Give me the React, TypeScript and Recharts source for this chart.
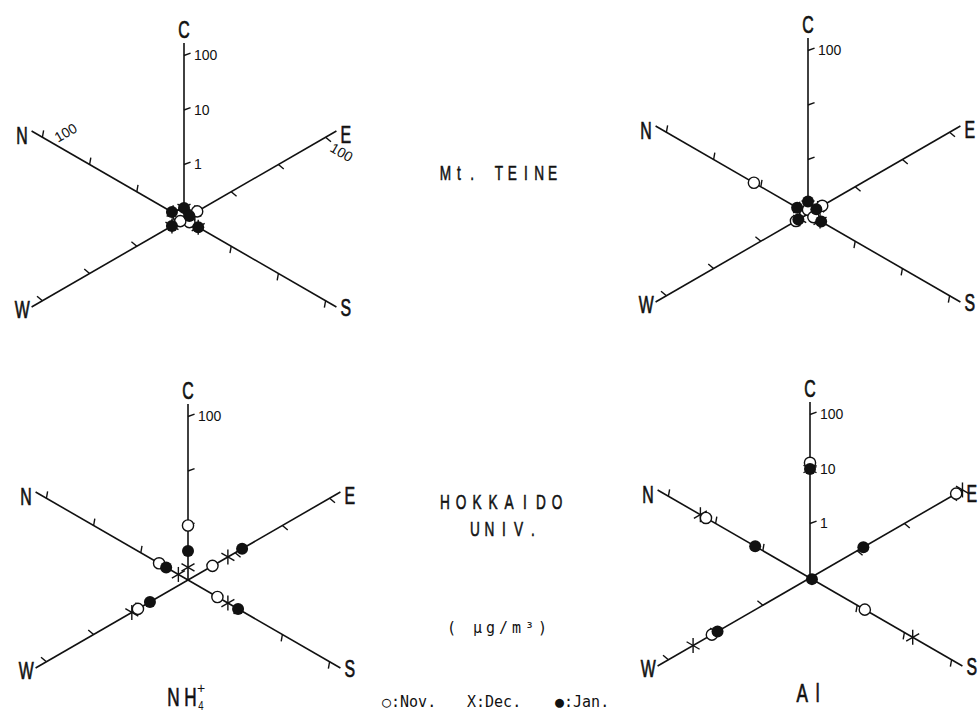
import React from 'react';
import {
    ScatterChart,
    Scatter,
    XAxis,
    YAxis,
    ReferenceLine,
    ReferenceDot
} from 'recharts';

const WIDTH = 979;
const HEIGHT = 713;

// every value list below follows this axis order
const AXES = ['C', 'N', 'E', 'S', 'W'];
const MONTHS = ['Nov.', 'Dec.', 'Jan.'];
const TICK_VALUES = [1, 10, 100];

// Mt. TEINE, NH4+ (ug/m3)
const teineNh4Nov = [0.12, 0.13, 0.19, 0.13, 0.12];
const teineNh4Dec = [0.16, 0.17, 0.17, 0.2, 0.18];
const teineNh4Jan = [0.16, 0.18, 0.13, 0.2, 0.18];

// Mt. TEINE, Al
const teineAlNov = [0.12, 1.4, 0.2, 0.13, 0.18];
const teineAlDec = [0.15, 0.15, 0.16, 0.18, 0.15];
const teineAlJan = [0.17, 0.17, 0.15, 0.19, 0.16];

// HOKKAIDO UNIV., NH4+
const hokudaiNh4Nov = [1.0, 0.41, 0.33, 0.42, 1.15];
const hokudaiNh4Dec = [0.17, 0.16, 0.7, 0.7, 1.55];
const hokudaiNh4Jan = [0.34, 0.29, 1.4, 1.15, 0.64];

// HOKKAIDO UNIV., Al
const hokudaiAlNov = [13, 16, 125, 1.45, 12];
const hokudaiAlDec = [10, 21, 170, 15, 30];
const hokudaiAlJan = [10, 1.45, 1.35, 0.11, 9.1];

// which ticks on the C axis carry a number
const teineNh4Labels = [1, 10, 100];
const teineAlLabels = [100];
const hokudaiNh4Labels = [100];
const hokudaiAlLabels = [1, 10, 100];

const SANS = '"Liberation Sans", Arial, sans-serif';
const MONO = '"DejaVu Sans Mono", monospace';
const INK = '#111';

// star geometry: log scale, 0.1 at the centre, one decade per DECADE px
const DECADE = 54.5;
const LOG_MIN = -1;
const AXIS_LEN = 176;
const TICK_LEN = 7;
const ANGLE: Record<string, number> = { C: 270, N: 210, E: 330, S: 30, W: 150 };

interface Panel {
    id: string;
    cx: number;
    cy: number;
    months: number[][];
    labels: number[];
}

const PANELS: Panel[] = [
    { id: 'teine-nh4', cx: 184, cy: 219, months: [teineNh4Nov, teineNh4Dec, teineNh4Jan], labels: teineNh4Labels },
    { id: 'teine-al', cx: 808, cy: 214, months: [teineAlNov, teineAlDec, teineAlJan], labels: teineAlLabels },
    { id: 'hokudai-nh4', cx: 188, cy: 580, months: [hokudaiNh4Nov, hokudaiNh4Dec, hokudaiNh4Jan], labels: hokudaiNh4Labels },
    { id: 'hokudai-al', cx: 810, cy: 578, months: [hokudaiAlNov, hokudaiAlDec, hokudaiAlJan], labels: hokudaiAlLabels }
];

const unit = (deg: number) => {
    const r = (deg * Math.PI) / 180;
    return { dx: Math.cos(r), dy: Math.sin(r) };
};

const distOf = (v: number) => Math.max(0, (Math.log10(v) - LOG_MIN) * DECADE);

const along = (p: Panel, axis: string, dist: number) => {
    const d = unit(ANGLE[axis]);
    return { x: p.cx + d.dx * dist, y: p.cy + d.dy * dist };
};

// axis lines and decade ticks
const segments: { key: string; a: { x: number; y: number }; b: { x: number; y: number }; w: number }[] = [];
PANELS.forEach((p) => {
    AXES.forEach((axis) => {
        segments.push({ key: `${p.id}-${axis}`, a: { x: p.cx, y: p.cy }, b: along(p, axis, AXIS_LEN), w: 1.6 });
        TICK_VALUES.forEach((t) => {
            const base = along(p, axis, distOf(t));
            const d = unit(ANGLE[axis] + 70);
            segments.push({
                key: `${p.id}-${axis}-${t}`,
                a: base,
                b: { x: base.x + d.dx * TICK_LEN, y: base.y + d.dy * TICK_LEN },
                w: 1.4
            });
        });
    });
});

const seriesFor = (m: number) =>
    PANELS.flatMap((p) =>
        AXES.map((axis, i) => ({
            ...along(p, axis, distOf(p.months[m][i])),
            axis,
            value: p.months[m][i],
            month: MONTHS[m]
        }))
    );

const novData = seriesFor(0);
const decData = seriesFor(1);
const janData = seriesFor(2);

const OpenDot = (props: any) => (
    <circle cx={props.cx} cy={props.cy} r={5.6} fill="#fff" stroke={INK} strokeWidth={1.4} />
);

const FilledDot = (props: any) => <circle cx={props.cx} cy={props.cy} r={6} fill={INK} />;

// the "X" is drawn at +-60 deg to its own axis, so with the axis it reads as an asterisk
const Cross = (props: any) => {
    const a = ANGLE[props.payload.axis];
    return (
        <g stroke={INK} strokeWidth={1.4}>
            {[a + 60, a - 60].map((deg) => {
                const d = unit(deg);
                return (
                    <line
                        key={deg}
                        x1={props.cx - d.dx * 7.5}
                        y1={props.cy - d.dy * 7.5}
                        x2={props.cx + d.dx * 7.5}
                        y2={props.cy + d.dy * 7.5}
                    />
                );
            })}
        </g>
    );
};

interface LetterProps {
    cx?: number;
    cy?: number;
    text: string;
    size: number;
    sx?: number;
    pitch?: number;
    anchor?: 'start' | 'middle' | 'end';
    family?: string;
    rotate?: number;
    spacing?: number;
    weight?: number;
}

// narrow stencil-style lettering; with a pitch every glyph gets its own centre
const Lettering = ({ cx = 0, cy = 0, text, size, sx = 1, pitch, anchor = 'middle', family = SANS, rotate = 0, spacing, weight = 0 }: LetterProps) => {
    const chars = Array.from(text);
    const xs = pitch
        ? chars.map((_, i) => ((i - (chars.length - 1) / 2) * pitch) / sx).join(' ')
        : '0';
    return (
        <text
            transform={`translate(${cx},${cy}) rotate(${rotate}) scale(${sx},1)`}
            x={xs}
            y={0}
            textAnchor={pitch ? 'middle' : anchor}
            fontSize={size}
            fontFamily={family}
            letterSpacing={spacing}
            fill={INK}
            stroke={weight ? INK : undefined}
            strokeWidth={weight || undefined}
        >
            {text}
        </text>
    );
};

const LABEL_OFFSET: Record<string, { dx: number; dy: number; anchor: 'start' | 'middle' | 'end' }> = {
    C: { dx: 0, dy: -5, anchor: 'middle' },
    N: { dx: -4, dy: 13, anchor: 'end' },
    E: { dx: 4, dy: 12, anchor: 'start' },
    S: { dx: 4, dy: 9, anchor: 'start' },
    W: { dx: -2, dy: 11, anchor: 'end' }
};

const textAt = (key: string, x: number, y: number, node: (cx: number, cy: number) => React.ReactElement) => (
    <ReferenceDot
        key={key}
        x={x}
        y={y}
        r={0}
        ifOverflow="visible"
        shape={(p: any) => node(p.cx, p.cy)}
    />
);

export default function App() {
    const texts: React.ReactElement[] = [];

    PANELS.forEach((p) => {
        AXES.forEach((axis) => {
            const end = along(p, axis, AXIS_LEN);
            const o = LABEL_OFFSET[axis];
            texts.push(
                textAt(`${p.id}-lab-${axis}`, end.x + o.dx, end.y + o.dy, (cx, cy) => (
                    <Lettering cx={cx} cy={cy} text={axis} size={24} sx={0.66} anchor={o.anchor} weight={0.7} />
                ))
            );
        });
        p.labels.forEach((t) => {
            const base = along(p, 'C', distOf(t));
            texts.push(
                textAt(`${p.id}-c-${t}`, base.x + 10, base.y + 4.5, (cx, cy) => (
                    <Lettering cx={cx} cy={cy} text={String(t)} size={14} anchor="start" />
                ))
            );
        });
    });

    // slanted "100" on the N and E axes of the first star
    const first = PANELS[0];
    const n100 = along(first, 'N', distOf(100));
    const e100 = along(first, 'E', distOf(100));
    texts.push(
        textAt('n100', n100.x + 15.5, n100.y + 5.5, (cx, cy) => (
            <Lettering cx={cx} cy={cy} text="100" size={14} anchor="start" rotate={-30} />
        )),
        textAt('e100', e100.x + 3.5, e100.y + 13.5, (cx, cy) => (
            <Lettering cx={cx} cy={cy} text="100" size={14} anchor="start" rotate={30} />
        ))
    );

    // site names, unit and species
    texts.push(
        textAt('teine', 499, 180, (cx, cy) => <Lettering cx={cx} cy={cy} text="Mt. TEINE" size={21} sx={0.65} pitch={13.4} weight={0.6} />),
        textAt('hokkaido', 501, 509, (cx, cy) => <Lettering cx={cx} cy={cy} text="HOKKAIDO" size={21} sx={0.65} pitch={16} weight={0.6} />),
        textAt('univ', 504, 536, (cx, cy) => <Lettering cx={cx} cy={cy} text="UNIV." size={21} sx={0.65} pitch={14.5} weight={0.6} />),
        textAt('unit', 499, 633, (cx, cy) => <Lettering cx={cx} cy={cy} text="( μg/m³)" size={15} family={MONO} spacing={4} />),
        textAt('nh', 182, 706, (cx, cy) => <Lettering cx={cx} cy={cy} text="NH" size={26} sx={0.66} pitch={17} weight={0.7} />),
        textAt('nh-plus', 201, 693, (cx, cy) => <Lettering cx={cx} cy={cy} text="+" size={14} />),
        textAt('nh-four', 201, 710, (cx, cy) => <Lettering cx={cx} cy={cy} text="4" size={12} sx={0.8} />),
        textAt('al', 810, 702, (cx, cy) => <Lettering cx={cx} cy={cy} text="Al" size={26} sx={0.66} pitch={15.5} weight={0.7} />),
        textAt('leg-nov', 382, 707, (cx, cy) => <Lettering cx={cx} cy={cy} text="○:Nov." size={15} family={MONO} anchor="start" />),
        textAt('leg-dec', 467, 707, (cx, cy) => <Lettering cx={cx} cy={cy} text="X:Dec." size={15} family={MONO} anchor="start" />),
        textAt('leg-jan', 555, 707, (cx, cy) => <Lettering cx={cx} cy={cy} text="●:Jan." size={15} family={MONO} anchor="start" />)
    );

    return (
        <div style={{ position: 'absolute', left: 0, top: 0, width: WIDTH, height: HEIGHT, background: '#fff' }}>
            <ScatterChart width={WIDTH} height={HEIGHT} margin={{ top: 0, right: 0, bottom: 0, left: 0 }}>
                <XAxis type="number" dataKey="x" domain={[0, WIDTH]} hide />
                <YAxis type="number" dataKey="y" domain={[0, HEIGHT]} reversed hide />
                {segments.map((s) => (
                    <ReferenceLine
                        key={s.key}
                        segment={[s.a, s.b]}
                        stroke={INK}
                        strokeWidth={s.w}
                        ifOverflow="visible"
                    />
                ))}
                <Scatter name="Dec." data={decData} shape={Cross} isAnimationActive={false} />
                <Scatter name="Nov." data={novData} shape={OpenDot} isAnimationActive={false} />
                <Scatter name="Jan." data={janData} shape={FilledDot} isAnimationActive={false} />
                {texts}
            </ScatterChart>
        </div>
    );
}
